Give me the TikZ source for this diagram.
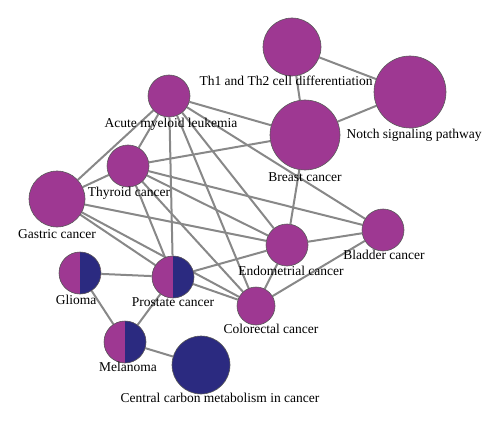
\documentclass[tikz,border=0pt]{standalone}
\usepackage{fontspec}
\setmainfont{Liberation Serif}
\usetikzlibrary{backgrounds}

\definecolor{pathmag}{RGB}{158,56,146}
\definecolor{pathblue}{RGB}{43,42,128}
\definecolor{edgegray}{RGB}{136,136,136}

\begin{document}
\begin{tikzpicture}[
  x=1pt, y=-1pt,
  hub/.style={circle, draw=black!65, line width=0.6pt, fill=pathmag, inner sep=0pt, minimum size=#1},
  hub/.default=42pt,
  split/.style={hub=#1, path picture={
      \fill[pathmag] (path picture bounding box.south west) rectangle (path picture bounding box.north);
      \fill[pathblue] (path picture bounding box.south) rectangle (path picture bounding box.north east);}},
  split/.default=42pt,
  link/.style={draw=edgegray, line width=2pt},
  tag/.style={font=\fontsize{13.5}{16}\selectfont, anchor=mid, inner sep=0pt}
]
  \useasboundingbox (0,0) rectangle (500,422);

  % Pathway nodes
  \node[hub=58pt] (th) at (292,47) {};
  \node[hub=72pt] (notch) at (410,92) {};
  \node[hub=70pt] (breast) at (305,135) {};
  \node[hub] (aml) at (169,96) {};
  \node[hub] (thyroid) at (128,166) {};
  \node[hub=56pt] (gastric) at (57,199) {};
  \node[hub] (endo) at (287,245) {};
  \node[hub] (bladder) at (383,230) {};
  \node[hub=38pt] (colo) at (256,306) {};
  \node[split] (glioma) at (80,273) {};
  \node[split] (prostate) at (173,277) {};
  \node[split] (melanoma) at (125,342) {};
  \node[hub=58pt, fill=pathblue] (carbon) at (201,365) {};

  % Links between pathways
  \begin{scope}[on background layer]
    \draw[link] (th) -- (notch);
    \draw[link] (th) -- (breast);
    \draw[link] (notch) -- (breast);
    \draw[link] (aml) -- (breast);
    \draw[link] (aml) -- (bladder);
    \draw[link] (aml) -- (endo);
    \draw[link] (aml) -- (colo);
    \draw[link] (aml) -- (prostate);
    \draw[link] (aml) -- (thyroid);
    \draw[link] (aml) -- (gastric);
    \draw[link] (thyroid) -- (breast);
    \draw[link] (thyroid) -- (bladder);
    \draw[link] (thyroid) -- (endo);
    \draw[link] (thyroid) -- (colo);
    \draw[link] (thyroid) -- (prostate);
    \draw[link] (thyroid) -- (gastric);
    \draw[link] (gastric) -- (endo);
    \draw[link] (gastric) -- (prostate);
    \draw[link] (gastric) -- (colo);
    \draw[link] (breast) -- (endo);
    \draw[link] (glioma) -- (prostate);
    \draw[link] (glioma) -- (melanoma);
    \draw[link] (prostate) -- (melanoma);
    \draw[link] (prostate) -- (endo);
    \draw[link] (prostate) -- (colo);
    \draw[link] (endo) -- (bladder);
    \draw[link] (endo) -- (colo);
    \draw[link] (colo) -- (bladder);
    \draw[link] (melanoma) -- (carbon);
  \end{scope}

  % Labels
  \node[tag] (labelTh) at (286,83) {Th1 and Th2 cell differentiation};
  \node[tag] (labelNotch) at (414,136) {Notch signaling pathway};
  \node[tag] (labelBreast) at (305,179) {Breast cancer};
  \node[tag] (labelAml) at (171,125) {Acute myeloid leukemia};
  \node[tag] (labelThyroid) at (129,194) {Thyroid cancer};
  \node[tag] (labelGastric) at (57,236) {Gastric cancer};
  \node[tag] (labelEndo) at (291,273) {Endometrial cancer};
  \node[tag] (labelBladder) at (384,257) {Bladder cancer};
  \node[tag] (labelColo) at (271,331) {Colorectal cancer};
  \node[tag] (labelGlioma) at (76,302) {Glioma};
  \node[tag] (labelProstate) at (173,304) {Prostate cancer};
  \node[tag] (labelMelanoma) at (128,369) {Melanoma};
  \node[tag] (labelCarbon) at (220,400) {Central carbon metabolism in cancer};

\end{tikzpicture}
\end{document}
